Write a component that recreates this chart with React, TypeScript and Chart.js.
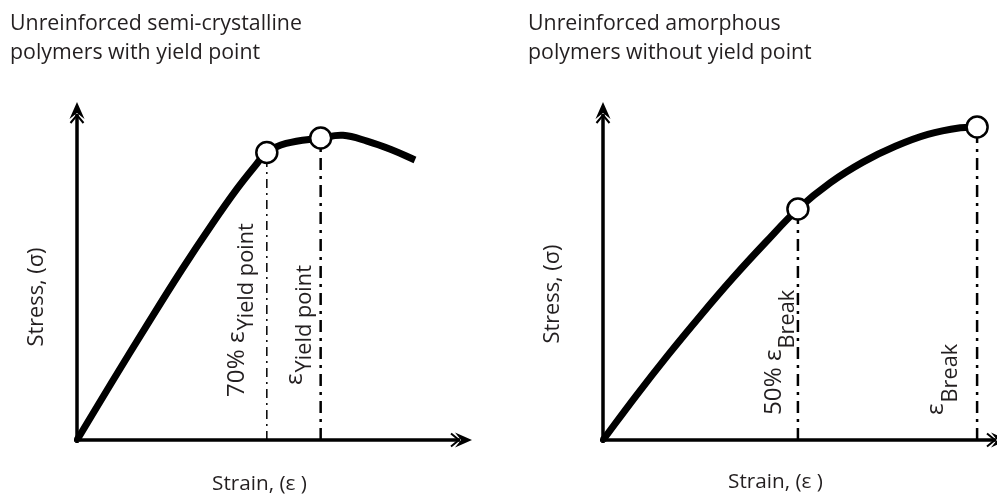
import React, { useEffect, useRef } from 'react';
import { Chart, registerables } from 'chart.js';

Chart.register(...registerables);

// ---------- data ----------
const LEFT_TITLE = ['Unreinforced semi-crystalline', 'polymers with yield point'];
const RIGHT_TITLE = ['Unreinforced amorphous', 'polymers without yield point'];
const X_LABEL = 'Strain, (\u03B5 )';
const Y_LABEL = 'Stress, (\u03C3)';

const LEFT_STRAIN = [0, 8.9, 17.8, 26.7, 34.4, 40.7, 45.3, 48.3, 53.2, 62.0, 67.7, 73.8, 79.9, 86.0];
const LEFT_STRESS = [0, 17.2, 34.1, 50.6, 64.1, 74.5, 81.3, 85.3, 88.0, 89.6, 90.4, 88.7, 86.2, 83.1];
const LEFT_MARK_STRAIN = [48.3, 62.0];
const LEFT_MARK_STRESS = [85.3, 89.6];
const LEFT_MARK_MAIN = ['70% \u03B5', '\u03B5'];
const LEFT_MARK_SUB = ['Yield point', 'Yield point'];

const RIGHT_STRAIN = [0, 8.53, 17.05, 25.58, 34.11, 42.64, 51.16, 59.69, 68.22, 76.74, 85.27, 93.8, 98.19];
const RIGHT_STRESS = [0, 12.9, 25.2, 36.9, 48.1, 58.6, 68.55, 76.38, 82.46, 87.15, 90.68, 92.64, 92.88];
const RIGHT_MARK_STRAIN = [51.16, 98.19];
const RIGHT_MARK_STRESS = [68.55, 92.88];
const RIGHT_MARK_MAIN = ['50% \u03B5', '\u03B5'];
const RIGHT_MARK_SUB = ['Break', 'Break'];

// ---------- styling / layout ----------
const TEXT_COLOR = '#231f20';
const FONT = '"Open Sans", "Noto Sans", sans-serif';
const W = 997;
const H = 496;
const SPLIT = 498;

function fitSize(ctx: CanvasRenderingContext2D, text: string, target: number) {
  ctx.font = `100px ${FONT}`;
  return (100 * target) / ctx.measureText(text).width;
}

function drawArrow(ctx: CanvasRenderingContext2D, x: number, y: number, angle: number) {
  ctx.save();
  ctx.translate(x, y);
  ctx.rotate(angle);
  ctx.fillStyle = '#000';
  ctx.beginPath();
  ctx.moveTo(0, 0);
  ctx.lineTo(-17, -7.5);
  ctx.lineTo(-11, 0);
  ctx.lineTo(-17, 7.5);
  ctx.closePath();
  ctx.fill();
  ctx.strokeStyle = '#000';
  ctx.lineWidth = 2;
  ctx.beginPath();
  ctx.moveTo(-21, -6.5);
  ctx.lineTo(-13, 0);
  ctx.lineTo(-21, 6.5);
  ctx.stroke();
  ctx.restore();
}

interface PanelCfg {
  offset: number;
  xTip: number;
  title: string[];
  titleX: number;
  strainX: number;
  strainY: number;
  stressX: number;
  stressY: number;
  markMain: string[];
  markSub: string[];
  markBottom: number[];
  markMainBase: number[];
  markSubBase: number[];
}

function makePlugin(cfg: PanelCfg) {
  return {
    id: 'decor' + cfg.offset,
    beforeDatasetsDraw(chart: any) {
      const ctx: CanvasRenderingContext2D = chart.ctx;
      const a = chart.chartArea;
      const xs = chart.scales.x;
      const ys = chart.scales.y;
      const ox = xs.getPixelForValue(0);
      const oy = ys.getPixelForValue(0);
      const xTip = cfg.xTip - cfg.offset;
      const yTip = a.top - 1;
      ctx.save();
      ctx.strokeStyle = '#000';
      ctx.lineWidth = 3.5;
      ctx.lineCap = 'butt';
      ctx.beginPath();
      ctx.moveTo(ox - 3, oy);
      ctx.lineTo(xTip - 12, oy);
      ctx.moveTo(ox, oy + 3);
      ctx.lineTo(ox, yTip + 12);
      ctx.stroke();
      drawArrow(ctx, xTip, oy, 0);
      drawArrow(ctx, ox, yTip, -Math.PI / 2);
      ctx.restore();
    },
    afterDraw(chart: any) {
      const ctx: CanvasRenderingContext2D = chart.ctx;
      const off = cfg.offset;
      ctx.save();
      ctx.fillStyle = TEXT_COLOR;
      // titles
      const ts = fitSize(ctx, LEFT_TITLE[0], 292);
      ctx.font = `${ts}px ${FONT}`;
      ctx.textAlign = 'left';
      ctx.textBaseline = 'alphabetic';
      ctx.fillText(cfg.title[0], cfg.titleX - off, 30);
      ctx.fillText(cfg.title[1], cfg.titleX - off, 59);
      // strain label
      const ss = fitSize(ctx, X_LABEL, 95);
      ctx.font = `${ss}px ${FONT}`;
      ctx.textAlign = 'center';
      ctx.fillText(X_LABEL, cfg.strainX - off, cfg.strainY);
      // stress label
      const sy = fitSize(ctx, Y_LABEL, 99);
      ctx.save();
      ctx.translate(cfg.stressX - off, cfg.stressY);
      ctx.rotate(-Math.PI / 2);
      ctx.font = `${sy}px ${FONT}`;
      ctx.textAlign = 'center';
      ctx.textBaseline = 'middle';
      ctx.fillText(Y_LABEL, 0, 0);
      ctx.restore();
      // marker labels
      ctx.font = `100px ${FONT}`;
      const wm = ctx.measureText(LEFT_MARK_MAIN[0]).width;
      const wsub = ctx.measureText(LEFT_MARK_SUB[0]).width;
      const ms = (100 * 173) / (wm + 0.9 * wsub);
      const subS = ms * 0.9;
      cfg.markMain.forEach((m, i) => {
        ctx.save();
        ctx.translate(cfg.markMainBase[i] - off, cfg.markBottom[i]);
        ctx.rotate(-Math.PI / 2);
        ctx.textAlign = 'left';
        ctx.textBaseline = 'alphabetic';
        ctx.font = `${ms}px ${FONT}`;
        ctx.fillText(m, 0, 0);
        const w = ctx.measureText(m).width;
        ctx.font = `${subS}px ${FONT}`;
        ctx.fillText(cfg.markSub[i], w + 1, cfg.markSubBase[i] - cfg.markMainBase[i]);
        ctx.restore();
      });
      ctx.restore();
    },
  };
}

function buildConfig(
  strain: number[],
  stress: number[],
  mStrain: number[],
  mStress: number[],
  padding: any,
  plugin: any,
  dashWidths: number[],
  dashPatterns: number[][]
): any {
  const curve = strain.map((x, i) => ({ x, y: stress[i] }));
  const marks = mStrain.map((x, i) => ({ x, y: mStress[i] }));
  const guides = mStrain.map((x, i) => ({
    data: [
      { x, y: 0 },
      { x, y: mStress[i] },
    ],
    borderColor: '#000',
    borderWidth: dashWidths[i],
    borderDash: dashPatterns[i],
    pointRadius: 0,
    tension: 0,
    clip: false,
  }));
  return {
    type: 'line',
    data: {
      datasets: [
        {
          data: marks,
          showLine: false,
          pointRadius: 10.5,
          pointBackgroundColor: '#fff',
          pointBorderColor: '#000',
          pointBorderWidth: 2.5,
          clip: false,
        },
        {
          data: curve,
          borderColor: '#000',
          borderWidth: 7,
          pointRadius: 0,
          tension: 0.4,
          borderCapStyle: 'butt',
          borderJoinStyle: 'round',
          clip: false,
        },
        ...guides,
      ],
    },
    options: {
      responsive: false,
      maintainAspectRatio: false,
      animation: false,
      layout: { padding },
      plugins: { legend: { display: false }, tooltip: { enabled: false }, title: { display: false } },
      scales: {
        x: { type: 'linear', min: 0, max: 100, display: false },
        y: { type: 'linear', min: 0, max: 100, display: false },
      },
    },
    plugins: [plugin],
  };
}

export default function App() {
  const leftRef = useRef<HTMLCanvasElement>(null);
  const rightRef = useRef<HTMLCanvasElement>(null);

  useEffect(() => {
    const leftPlugin = makePlugin({
      offset: 0,
      xTip: 472,
      title: LEFT_TITLE,
      titleX: 10,
      strainX: 259.5,
      strainY: 490,
      stressX: 37,
      stressY: 297,
      markMain: LEFT_MARK_MAIN,
      markSub: LEFT_MARK_SUB,
      markBottom: [397, 385],
      markMainBase: [244, 302],
      markSubBase: [253, 311],
    });
    const rightPlugin = makePlugin({
      offset: SPLIT,
      xTip: 1008,
      title: RIGHT_TITLE,
      titleX: 528,
      strainX: 775.5,
      strainY: 488,
      stressX: 553,
      stressY: 294,
      markMain: RIGHT_MARK_MAIN,
      markSub: RIGHT_MARK_SUB,
      markBottom: [415, 415],
      markMainBase: [781, 943],
      markSubBase: [794, 957],
    });
    const left = new Chart(
      leftRef.current!,
      buildConfig(
        LEFT_STRAIN,
        LEFT_STRESS,
        LEFT_MARK_STRAIN,
        LEFT_MARK_STRESS,
        { left: 77, right: SPLIT - 470, top: 103, bottom: H - 440 },
        leftPlugin,
        [1.5, 2.5],
        [
          [9, 5, 2, 5],
          [12, 6, 3, 6],
        ]
      )
    );
    const right = new Chart(
      rightRef.current!,
      buildConfig(
        RIGHT_STRAIN,
        RIGHT_STRESS,
        RIGHT_MARK_STRAIN,
        RIGHT_MARK_STRESS,
        { left: 603 - SPLIT, right: W - 990, top: 103, bottom: H - 440 },
        rightPlugin,
        [2.5, 2.5],
        [
          [12, 6, 3, 6],
          [12, 6, 3, 6],
        ]
      )
    );
    return () => {
      left.destroy();
      right.destroy();
    };
  }, []);

  return (
    <div style={{ position: 'absolute', left: 0, top: 0, width: W, height: H, background: '#fff', overflow: 'hidden' }}>
      <canvas ref={leftRef} width={SPLIT} height={H} style={{ position: 'absolute', left: 0, top: 0, width: SPLIT, height: H }} />
      <canvas
        ref={rightRef}
        width={W - SPLIT}
        height={H}
        style={{ position: 'absolute', left: SPLIT, top: 0, width: W - SPLIT, height: H }}
      />
    </div>
  );
}
